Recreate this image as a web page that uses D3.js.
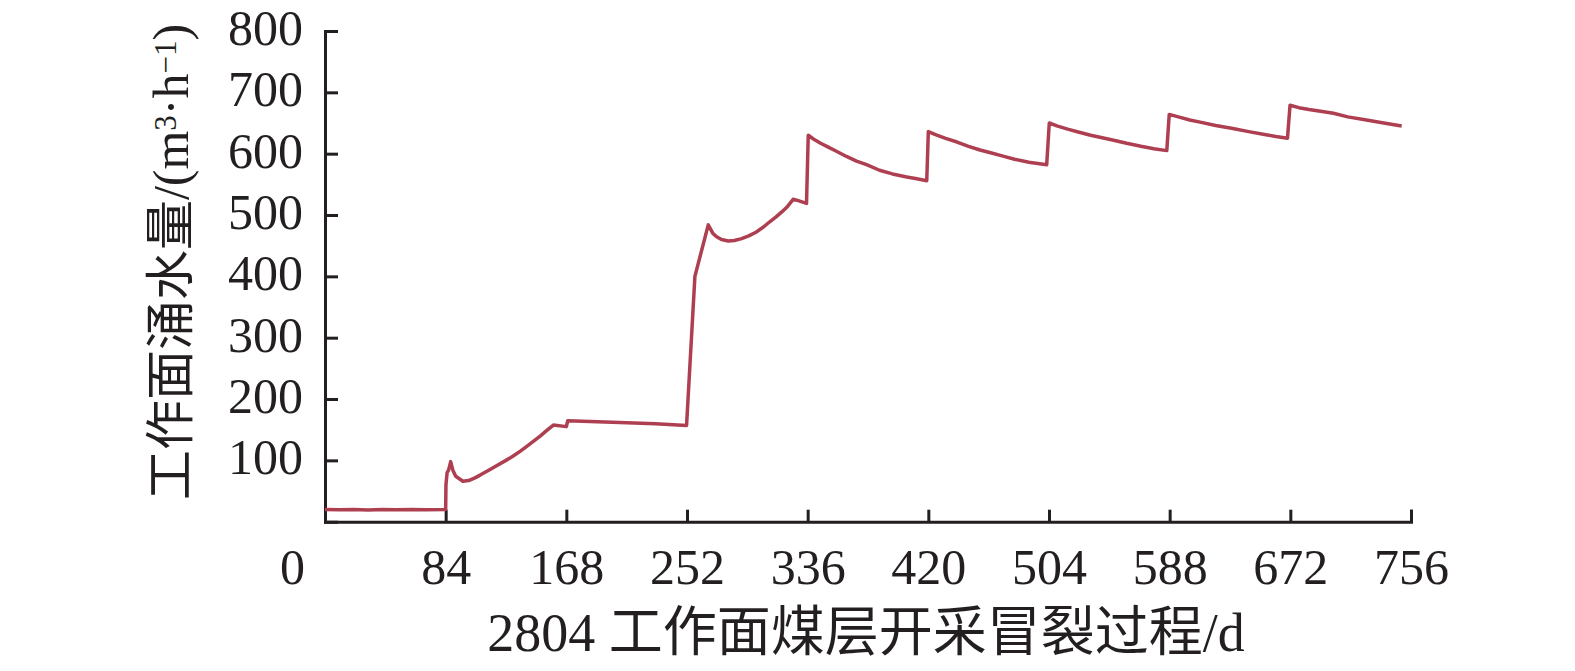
<!DOCTYPE html>
<html>
<head>
<meta charset="utf-8">
<script src="https://cdn.jsdelivr.net/npm/d3@7"></script>
<style>
  html, body { margin: 0; padding: 0; background: #fff; }
  svg { display: block; }
  .axis path, .axis line { stroke: #231f20; stroke-width: 3; }
  .axis text { font-family: "Liberation Serif", "Times New Roman", serif; font-size: 50px; fill: #231f20; }
  .title { font-family: "Liberation Serif", "Noto Sans CJK SC", serif; fill: #231f20; }
</style>
</head>
<body>
<script>
// days since start of mining, and inflow in m3/h
const days = [0, 10, 20, 30, 40, 50, 60, 70, 84, 84.2, 85, 86, 87.5, 89, 91, 96, 100, 104, 108, 114, 120, 126, 131,
  136, 140, 145, 150, 154, 159, 168, 169, 200, 230, 251.7, 257.5, 266.8, 270, 272.6, 276, 280.7, 285, 290, 295,
  300, 305, 309.6, 314, 318, 322, 325.9, 330, 335.2,
  336.4, 340, 345, 350, 356, 363, 370, 377, 386, 395, 405, 412, 418.9,
  420, 425, 432, 440, 448, 456, 464, 472, 480, 490, 502.4,
  504.2, 510, 517, 525, 533, 541, 549, 558, 568, 577, 586,
  587.7, 594, 602, 610, 620, 632, 643, 655, 662, 670,
  671.8, 678, 685, 693, 702, 712, 725, 737, 749.5]
const inflow = [20, 19.5, 20, 19, 20, 19.5, 20, 19.5, 20, 60, 80, 84, 98, 84, 74, 66, 67, 71, 76, 84, 92, 100, 107,
  115, 122, 131, 140, 148, 157.6, 155, 164.6, 162, 159.5, 157, 400, 484, 470, 464.6, 460, 457.6, 458.5, 461.5, 466,
  472, 480, 489, 497, 505, 514, 525.6, 523, 519,
  630, 624, 617, 611, 604, 595.5, 588, 582, 573, 567, 562, 559, 556,
  636, 631, 625, 619, 612, 606, 601, 596, 591, 586, 582,
  650, 645, 640, 635, 630, 626, 622, 617, 612, 608, 605,
  664, 660, 655, 651, 646, 641, 636, 631, 628, 625,
  679, 675, 672, 669, 666, 660, 655, 650, 645]

const xTicks = [0, 84, 168, 252, 336, 420, 504, 588, 672, 756]
const yTicks = [100, 200, 300, 400, 500, 600, 700, 800]

const width = 1575, height = 671
const svg = d3.select('body').append('svg')
    .attr('width', width)
    .attr('height', height)

let x = d3.scaleLinear().domain([0, 756]).range([325, 1411])
let y = d3.scaleLinear().domain([0, 800]).range([521.7, 31])

// x axis, ticks pointing inward
let gx = svg.append('g')
    .classed('axis', true)
    .attr('transform', `translate(0,${y(0)})`)
    .call(d3.axisBottom(x).tickValues(xTicks).tickSize(-12).tickPadding(27))
// the 0 label sits left of the corner, no tick there
gx.selectAll('.tick')
    .filter(d => d === 0)
    .call(t => t.select('line').remove())
    .select('text').attr('dx', -33)

// y axis
svg.append('g')
    .classed('axis', true)
    .attr('transform', `translate(${x(0)},0)`)
    .call(d3.axisLeft(y).tickValues(yTicks).tickSize(-13).tickPadding(22))
  .selectAll('text')
    .attr('dy', '0.27em')

// the series
let line = d3.line()
    .x((d, i) => x(days[i]))
    .y(d => y(d))
svg.append('path')
    .datum(inflow)
    .attr('d', line)
    .attr('fill', 'none')
    .attr('stroke', '#ae3f51')
    .attr('stroke-width', 3.5)
    .attr('stroke-linejoin', 'round')

// axis titles
svg.append('text')
    .classed('title', true)
    .attr('x', 866)
    .attr('y', 651)
    .attr('text-anchor', 'middle')
    .style('font-size', '54px')
    .text('2804 工作面煤层开采冒裂过程/d')

let yTitle = svg.append('text')
    .classed('title', true)
    .attr('transform', 'translate(170,262) rotate(-90)')
    .attr('text-anchor', 'middle')
    .attr('dy', '0.36em')
    .style('font-size', '50px')
yTitle.append('tspan').text('工作面涌水量/(m')
yTitle.append('tspan').attr('baseline-shift', '40%').style('font-size', '31px').text('3')
yTitle.append('tspan').text('·h')
yTitle.append('tspan').attr('baseline-shift', '40%').style('font-size', '31px').text('−1')
yTitle.append('tspan').text(')')
</script>
</body>
</html>
